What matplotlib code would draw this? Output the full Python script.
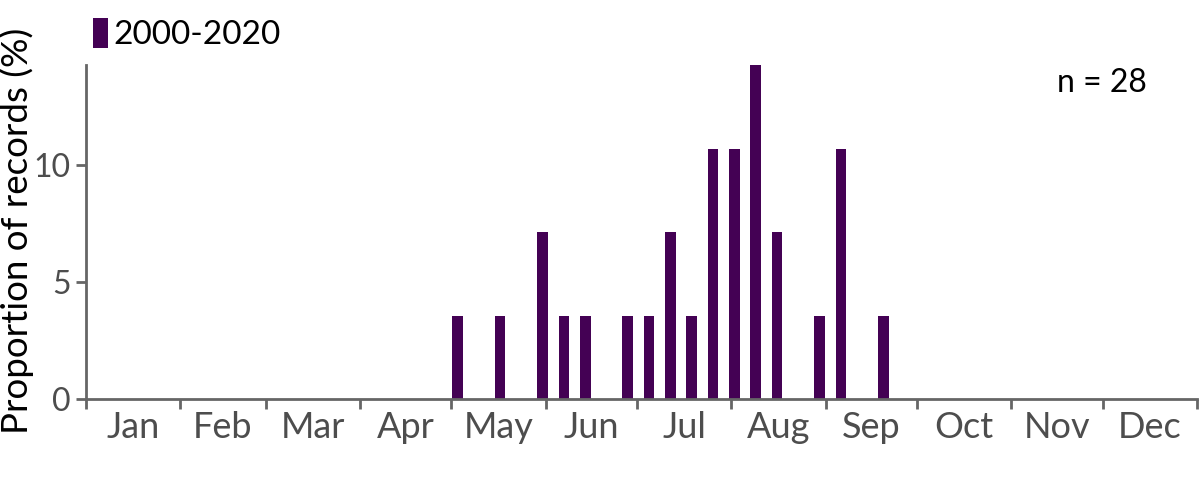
import matplotlib
matplotlib.use("Agg")
import matplotlib.pyplot as plt
import numpy as np

# ---- data ----
months = ["Jan", "Feb", "Mar", "Apr", "May", "Jun", "Jul", "Aug", "Sep", "Oct", "Nov", "Dec"]
month_days = [31, 28, 31, 30, 31, 30, 31, 31, 30, 31, 30, 31]
weeks = [17, 19, 21, 22, 23, 25, 26, 27, 28, 29, 30, 31, 32, 34, 35, 37]
counts = [1, 1, 2, 1, 1, 1, 1, 2, 1, 3, 3, 4, 2, 1, 3, 1]
n_records = 28
series_label = "2000-2020"
y_ticks = [0, 5, 10]

pct = np.array(counts) / n_records * 100
x_days = np.array(weeks) * 7 + 3

bounds = np.concatenate([[0], np.cumsum(month_days)])
mids = (bounds[:-1] + bounds[1:]) / 2

plt.rcParams['font.family'] = ['Lato', 'DejaVu Sans']
BAR = "#440154"
GREY = "#666666"
LABGREY = "#4d4d4d"

fig = plt.figure(figsize=(12, 4.8), dpi=100)
ax = fig.add_axes([86/1200, 1 - 399/480, (1197-86)/1200, (399-65)/480])

ax.bar(x_days, pct, width=3.5, color=BAR, label=series_label)

ax.set_xlim(0, 365)
ax.set_ylim(0, pct.max())

ax.set_xticks(bounds, minor=False)
ax.set_xticklabels([])
ax.set_xticks(mids, minor=True)
ax.set_xticklabels(months, minor=True)
ax.tick_params(axis='x', which='major', length=7, width=2, color=GREY, direction='out')
ax.tick_params(axis='x', which='minor', length=0, pad=9, labelsize=26, labelcolor=LABGREY)

ax.set_yticks(y_ticks)
ax.tick_params(axis='y', length=7, width=2, color=GREY, pad=4, labelsize=23, labelcolor=LABGREY)

for s in ['top', 'right']:
    ax.spines[s].set_visible(False)
for s in ['left', 'bottom']:
    ax.spines[s].set_color(GREY)
    ax.spines[s].set_linewidth(2)

fig.text(17/1200, 1 - 231/480, "Proportion of records (%)", rotation=90,
         ha='center', va='center', fontsize=26.5, color="black")

ax.text(0.955, 0.99, f"n = {n_records}", transform=ax.transAxes, ha='right', va='top',
        fontsize=23, color='black')

leg = ax.legend(loc='lower left', bbox_to_anchor=(93/1200, 1 - 50/480),
                bbox_transform=fig.transFigure, frameon=False, fontsize=24,
                handlelength=0.45, handleheight=1.0, handletextpad=0.15,
                borderpad=0, borderaxespad=0)

fig.savefig("out.png", dpi=100)
